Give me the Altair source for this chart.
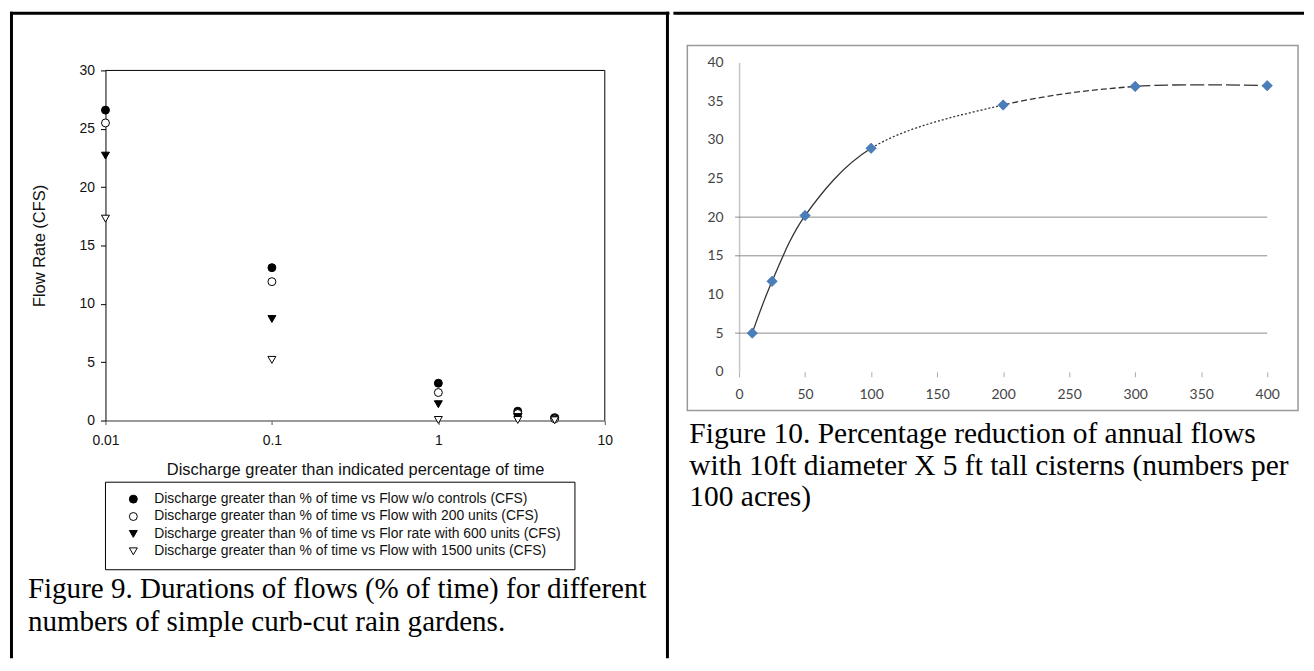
import altair as alt
import pandas as pd

# ---------------- Figure 9 data ----------------
pct_time = [0.01, 0.1, 1, 3, 5]
flow_wo_controls = [26.6, 13.1, 3.2, 0.8, 0.25]
flow_200_units = [25.5, 11.9, 2.4, 0.6, 0.15]
flow_600_units = [22.7, 8.7, 1.4, 0.3, 0.1]
flow_1500_units = [17.3, 5.2, 0.05, 0.05, 0.02]
series_names = [
    "Discharge greater than % of time vs Flow w/o controls (CFS)",
    "Discharge greater than % of time vs Flow with 200 units (CFS)",
    "Discharge greater than % of time vs Flor rate with 600 units (CFS)",
    "Discharge greater than % of time vs Flow with 1500 units (CFS)",
]
series_shapes = ["circle", "circle", "triangle-down", "triangle-down"]
series_fills = ["black", "white", "black", "white"]
x_ticks9 = [0.01, 0.1, 1, 10]
y_ticks9 = [0, 5, 10, 15, 20, 25, 30]
caption9 = [
    "Figure 9. Durations of flows (% of time) for different",
    "numbers of simple curb-cut rain gardens.",
]

# ---------------- Figure 10 data ----------------
cisterns = [10, 25, 50, 100, 200, 300, 400]
reduction = [5.0, 11.7, 20.2, 28.9, 34.5, 36.9, 37.0]
x_ticks10 = [0, 50, 100, 150, 200, 250, 300, 350, 400]
y_ticks10 = [0, 5, 10, 15, 20, 25, 30, 35, 40]
grid10 = [5, 15, 20]
caption10 = [
    "Figure 10. Percentage reduction of annual flows",
    "with 10ft diameter X 5 ft tall cisterns (numbers per",
    "100 acres)",
]

H = 650
W1 = 664
W2 = 634

rows = []
for name, vals in zip(series_names, [flow_wo_controls, flow_200_units, flow_600_units, flow_1500_units]):
    for p, v in zip(pct_time, vals):
        rows.append({"pct": p, "flow": v, "series": name})
df9 = pd.DataFrame(rows)
df10 = pd.DataFrame({"n": cisterns, "r": reduction})
dfgrid = pd.DataFrame({"g": grid10})
one = pd.DataFrame({"a": [0]})

SANS = "Liberation Sans"
SERIF = "Liberation Serif"


def rule(x, x2, y, y2, color="black", width=1.0):
    return alt.Chart(one).mark_rule(color=color, strokeWidth=width).encode(
        x=alt.value(x), x2=alt.value(x2), y=alt.value(y), y2=alt.value(y2)
    )


# ---------- left panel ----------
legend9 = alt.Legend(
    orient="none", legendX=118, legendY=483, title=None,
    labelFont=SANS, labelFontSize=14, labelColor="#111", labelLimit=1000,
    labelOffset=14, rowPadding=3.5, padding=0, symbolSize=64,
    symbolStrokeColor="black", symbolStrokeWidth=1,
)

x9 = alt.X(
    "pct:Q",
    scale=alt.Scale(type="log", domain=[0.01, 10], range=[97, 599]),
    axis=alt.Axis(
        values=x_ticks9, format="~g", orient="bottom", offset=-(H - 411),
        title="Discharge greater than indicated percentage of time",
        titleX=348, titleY=49.5, titleBaseline="middle", titleAlign="center",
        titleFont=SANS, titleFontSize=16.5, titleFontWeight="normal", titleColor="#111",
        labelFont=SANS, labelFontSize=14, labelColor="#111", labelPadding=9,
        tickSize=4, tickColor="#555", domainColor="#777", domainWidth=1.5,
        grid=False, labelFlush=False,
    ),
)
y9 = alt.Y(
    "flow:Q",
    scale=alt.Scale(domain=[0, 30], range=[411, 59], nice=False, zero=False),
    axis=alt.Axis(
        values=y_ticks9, orient="left", offset=-97,
        title="Flow Rate (CFS)", titleX=-66, titleY=235, titleAngle=270,
        titleBaseline="middle", titleAlign="center",
        titleFont=SANS, titleFontSize=16.5, titleFontWeight="normal", titleColor="#111",
        labelFont=SANS, labelFontSize=14, labelColor="#111", labelPadding=6,
        tickSize=5, tickColor="black", domainColor="black", domainWidth=1,
        grid=False,
    ),
)

points9 = alt.Chart(df9).mark_point(filled=True, size=64, strokeWidth=1, opacity=1).encode(
    x=x9,
    y=y9,
    shape=alt.Shape("series:N", scale=alt.Scale(domain=series_names, range=series_shapes), legend=legend9),
    fill=alt.Fill("series:N", scale=alt.Scale(domain=series_names, range=series_fills), legend=legend9),
    stroke=alt.Stroke("series:N", scale=alt.Scale(domain=series_names, range=["black"] * 4), legend=legend9),
)

legend_box = alt.Chart(one).mark_rect(fill=None, stroke="black", strokeWidth=1).encode(
    x=alt.value(97), x2=alt.value(569), y=alt.value(473), y2=alt.value(561)
)

cap9 = alt.Chart(one).mark_text(
    text=caption9, align="left", baseline="alphabetic", font=SERIF, fontSize=29.2,
    lineHeight=34, color="black",
).encode(x=alt.value(19), y=alt.value(589))

left = alt.layer(
    rule(2.5, 2.5, 0, H, width=3),
    rule(1, W1, 1.5, 1.5, width=3),
    rule(662, 662, 0, H, width=3),
    rule(97, 599, 59, 59),
    rule(599, 599, 59, 411),
    legend_box,
    points9,
    cap9,
).properties(width=W1, height=H)

# ---------- right panel ----------
x_axis10 = alt.Axis(
    values=x_ticks10, orient="bottom", offset=-(H - 362), domain=False,
    tickColor="#aaa", tickSize=5, labelPadding=11,
    labelFont="Lato", labelFontSize=14, labelColor="#444",
    title=None, grid=False, labelFlush=False,
)
y_axis10 = alt.Axis(
    values=y_ticks10, orient="left", offset=-66, domainColor="#c4c4c4", domainWidth=1.5,
    ticks=False, tickSize=0, labelPadding=16,
    labelFont="Lato", labelFontSize=14, labelColor="#444",
    title=None, grid=False,
)
x_scale10 = alt.Scale(domain=[0, 400], range=[66, 597], nice=False, zero=False)
y_scale10 = alt.Scale(domain=[0, 40], range=[362, 51], nice=False, zero=False)

x10 = alt.X("n:Q", scale=x_scale10, axis=x_axis10)
y10 = alt.Y("r:Q", scale=y_scale10, axis=y_axis10)

# line style as (dash, gap) pairs: solid up to the 100-cistern point,
# then fine dots, short dashes, long dashes
dash_pairs = [(228, 2)] + [(2, 2)] * 34 + [(6, 3)] * 15 + [(14, 4)] * 12 + [(600, 1)]
dash_pattern = [v for pair in dash_pairs for v in pair]

frame10 = alt.Chart(one).mark_rect(fill=None, stroke="#999", strokeWidth=1.5).encode(
    x=alt.value(14), x2=alt.value(628), y=alt.value(34), y2=alt.value(401)
)
grid_rules = alt.Chart(dfgrid).mark_rule(color="#8a8a8a", strokeWidth=1).encode(
    y=alt.Y("g:Q", scale=y_scale10, axis=y_axis10),
    x=alt.value(62), x2=alt.value(597),
)
curve = alt.Chart(df10).mark_line(
    interpolate="catmull-rom", color="#333", strokeWidth=1.3, strokeDash=dash_pattern
).encode(x=x10, y=y10)
diamonds = alt.Chart(df10).mark_point(
    shape="diamond", filled=True, size=110, color="#4A7EBB", opacity=1,
    stroke="#3A6AA5", strokeWidth=0.6,
).encode(x=x10, y=y10)

cap10 = alt.Chart(one).mark_text(
    text=caption10, align="left", baseline="alphabetic", font=SERIF, fontSize=29.6,
    lineHeight=31.5, color="black",
).encode(x=alt.value(16), y=alt.value(434))

right = alt.layer(
    rule(0, W2, 1.5, 1.5, width=3),
    frame10,
    grid_rules,
    curve,
    diamonds,
    cap10,
).properties(width=W2, height=H)

chart = (
    alt.hconcat(left, right, spacing=0)
    .resolve_scale(x="independent", y="independent", shape="independent",
                   fill="independent", stroke="independent")
    .properties(padding=0)
    .configure_view(strokeWidth=0)
)

chart.save("out.html", embed_options={"renderer": "svg", "actions": False})
